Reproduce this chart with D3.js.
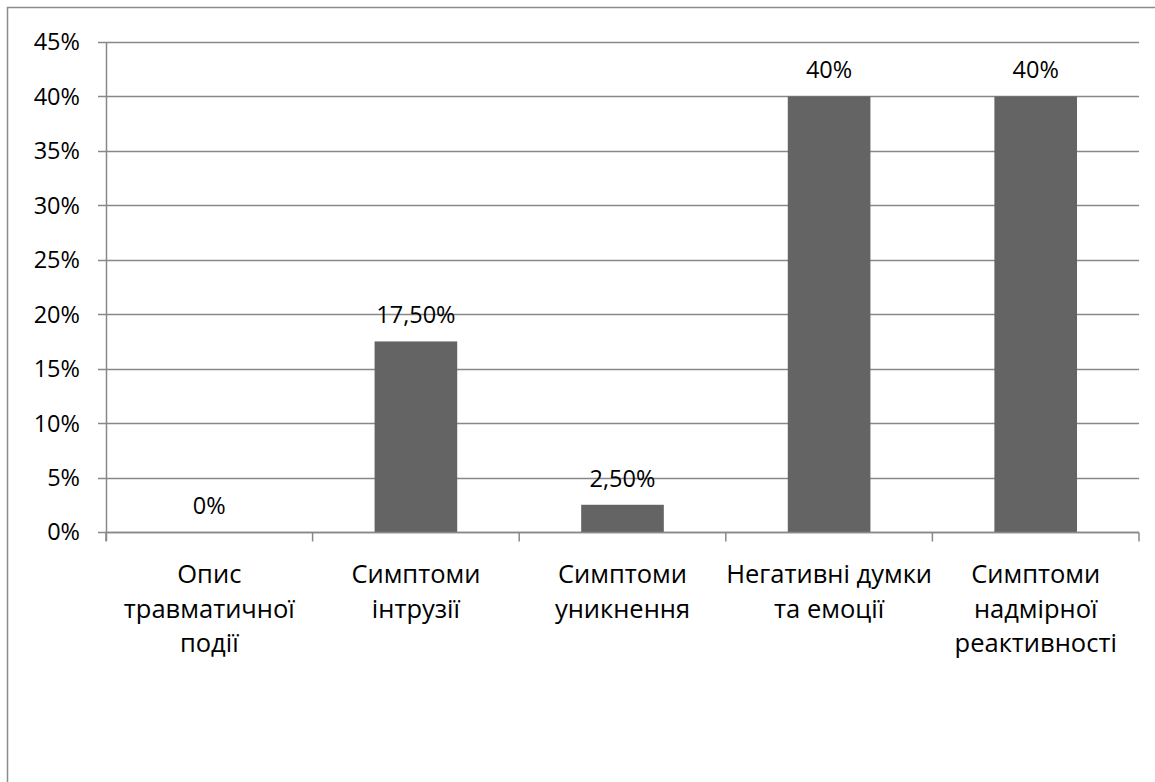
<!DOCTYPE html>
<html lang="uk">
  <head>
    <meta charset="UTF-8" />
    <script src="https://d3js.org/d3.v7.min.js"></script>
    <title></title>
    <style>
      body { margin: 0; background: #fff; }
      text { font-family: 'Open Sans', sans-serif; fill: #000; }
    </style>
  </head>
  <body>
    <div id="my_dataviz"></div>
    <script>
      // categories (already split into lines as in the picture)
      const categories = [
        ['Опис', 'травматичної', 'події'],
        ['Симптоми', 'інтрузії'],
        ['Симптоми', 'уникнення'],
        ['Негативні думки', 'та емоції'],
        ['Симптоми', 'надмірної', 'реактивності']
      ]
      const values = [0, 17.5, 2.5, 40, 40]
      const valueLabels = ['0%', '17,50%', '2,50%', '40%', '40%']
      const yTicks = [0, 5, 10, 15, 20, 25, 30, 35, 40, 45]

      const W = 1155, H = 782
      const margin = { top: 42, right: 16, bottom: 250, left: 106 }
      const width = W - margin.left - margin.right
      const height = H - margin.top - margin.bottom

      const root = d3.select('#my_dataviz')
        .append('svg')
        .attr('width', W)
        .attr('height', H)

      // outer chart frame (right and bottom edges fall off the picture)
      root.append('rect')
        .attr('x', 7.5).attr('y', 7.5)
        .attr('width', W + 10).attr('height', H + 10)
        .attr('fill', 'none')
        .attr('stroke', '#8c8c8c')
        .attr('stroke-width', 1.5)

      const svg = root.append('g')
        .attr('transform', `translate(${margin.left}, ${margin.top})`)

      const x = d3.scaleBand()
        .domain(d3.range(categories.length))
        .range([0, width])
        .paddingInner(0.6)
        .paddingOuter(0.3)
      const xb = d3.scaleBand().domain(d3.range(categories.length)).range([0, width])

      const y = d3.scaleLinear().domain([0, 45]).range([height, 0])

      // gridlines
      svg.append('g')
        .selectAll('line')
        .data(yTicks)
        .join('line')
        .attr('x1', -8)
        .attr('x2', width)
        .attr('y1', d => Math.round(y(d)) + 0.5)
        .attr('y2', d => Math.round(y(d)) + 0.5)
        .attr('stroke', '#888')
        .attr('stroke-width', 1.5)

      // y labels
      svg.append('g')
        .selectAll('text')
        .data(yTicks)
        .join('text')
        .attr('x', -26)
        .attr('y', d => y(d))
        .attr('dy', '0.36em')
        .attr('text-anchor', 'end')
        .style('font-size', '23.5px')
        .text(d => d + '%')

      // y axis line
      svg.append('line')
        .attr('x1', 0.5).attr('x2', 0.5)
        .attr('y1', 0).attr('y2', height + 9)
        .attr('stroke', '#888')
        .attr('stroke-width', 1.5)

      // bars
      svg.append('g')
        .selectAll('rect')
        .data(values)
        .join('rect')
        .attr('x', (d, i) => x(i))
        .attr('y', d => y(d))
        .attr('width', x.bandwidth())
        .attr('height', d => height - y(d))
        .attr('fill', '#646464')

      // x axis with ticks between categories
      const xAxis = svg.append('g').attr('transform', `translate(0, ${Math.round(height) + 0.5})`)
      xAxis.append('line')
        .attr('x1', 0).attr('x2', width)
        .attr('stroke', '#888')
        .attr('stroke-width', 1.5)
      xAxis.selectAll('.tick')
        .data(d3.range(categories.length + 1))
        .join('line')
        .attr('class', 'tick')
        .attr('x1', i => i * xb.bandwidth())
        .attr('x2', i => i * xb.bandwidth())
        .attr('y1', 0).attr('y2', 9)
        .attr('stroke', '#888')
        .attr('stroke-width', 1.5)

      // data labels
      svg.append('g')
        .selectAll('text')
        .data(values)
        .join('text')
        .attr('x', (d, i) => x(i) + x.bandwidth() / 2)
        .attr('y', d => y(d) - 18)
        .attr('text-anchor', 'middle')
        .style('font-size', '23.5px')
        .text((d, i) => valueLabels[i])

      // category labels
      svg.append('g')
        .selectAll('text')
        .data(categories)
        .join('text')
        .attr('text-anchor', 'middle')
        .style('font-size', '25.5px')
        .attr('transform', (d, i) => `translate(${xb(i) + xb.bandwidth() / 2}, ${height + 51})`)
        .selectAll('tspan')
        .data(d => d)
        .join('tspan')
        .attr('x', 0)
        .attr('y', (d, j) => j * 34.5)
        .text(d => d)
    </script>
  </body>
</html>
